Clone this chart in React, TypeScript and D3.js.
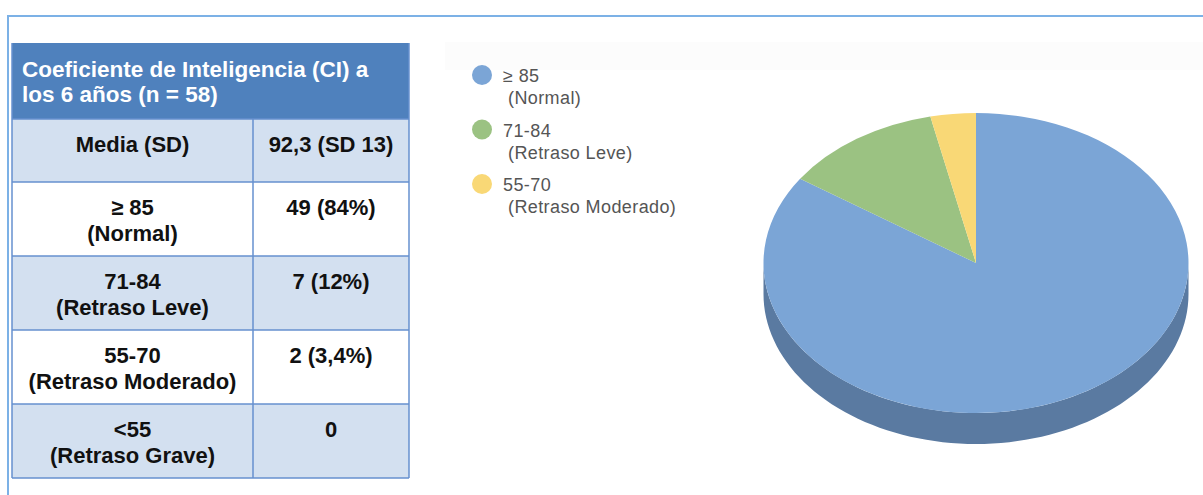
import React from 'react';
import * as d3 from 'd3';

// ---- data ----
const headerLines = ['Coeficiente de Inteligencia (CI) a', 'los 6 años (n = 58)'];
const rowLabels: string[][] = [
  ['Media (SD)'],
  ['≥ 85', '(Normal)'],
  ['71-84', '(Retraso Leve)'],
  ['55-70', '(Retraso Moderado)'],
  ['<55', '(Retraso Grave)'],
];
const rowValues = ['92,3 (SD 13)', '49 (84%)', '7 (12%)', '2 (3,4%)', '0'];

const pieCategories = ['≥ 85', '71-84', '55-70'];
const pieSubLabels = ['(Normal)', '(Retraso Leve)', '(Retraso Moderado)'];
const pieCounts = [49, 7, 2];
const pieColors = ['#7ba5d6', '#9bc282', '#f9d876'];
const pieSideColors = ['#5a7aa1', '#6f8f5c', '#c4a752'];

const W = 1203;
const H = 495;
const FONT = '"Liberation Sans", Arial, Helvetica, sans-serif';

export default function App() {
  // table layout
  const tX0 = 12, tX1 = 409, tDiv = 253;
  const headerTop = 43, headerH = 76;
  const rowHeights = [63, 74, 74, 74, 74];
  const rowTops: number[] = [];
  let acc = headerTop + headerH;
  rowHeights.forEach((h) => { rowTops.push(acc); acc += h; });
  const tBottom = acc;
  const gridColor = '#6690cf';

  // pie layout
  const cx = 976, cy = 263, rx = 212.5, ry = 150, depth = 31;
  const pie = d3.pie<number>().sort(null).value((d) => d);
  const arcsData = pie(pieCounts);
  const R = 100;
  const arcGen = d3.arc<d3.PieArcDatum<number>>().innerRadius(0).outerRadius(R);
  const sx = rx / R, sy = ry / R;

  const pt = (a: number, dy: number): [number, number] => [
    cx + rx * Math.sin(a),
    cy - ry * Math.cos(a) + dy,
  ];
  const sidePath = (a0: number, a1: number) => {
    const s = Math.max(a0, Math.PI / 2);
    const e = Math.min(a1, (3 * Math.PI) / 2);
    if (e <= s) return null;
    const n = 80;
    const top = d3.range(n + 1).map((i) => pt(s + ((e - s) * i) / n, 0));
    const bot = d3.range(n + 1).map((i) => pt(e - ((e - s) * i) / n, depth));
    return d3.line()([...top, ...bot]) + 'Z';
  };

  // legend layout
  const legX = 482, legY0 = 75, legStep = 54.5;

  return (
    <svg
      width={W}
      height={H}
      style={{ position: 'absolute', left: 0, top: 0, background: '#fff' }}
      fontFamily={FONT}
    >
      {/* frame */}
      <rect x={0} y={0} width={W} height={H} fill="#fff" />
      <rect x={445} y={42} width={W - 445} height={28} fill="#fcfcfc" />
      <line x1={8} y1={16} x2={W} y2={16} stroke="#7cb1e6" strokeWidth={2} />
      <line x1={8} y1={15} x2={8} y2={H} stroke="#7cb1e6" strokeWidth={2} />

      {/* table */}
      <rect x={tX0} y={headerTop} width={tX1 - tX0} height={headerH} fill="#4f81bd" />
      {headerLines.map((t, i) => (
        <text key={i} x={22} y={77 + i * 25} fill="#fff" fontWeight="bold" fontSize={22.5}>
          {t}
        </text>
      ))}
      {rowTops.map((top, i) => (
        <g key={i}>
          <rect
            x={tX0}
            y={top}
            width={tX1 - tX0}
            height={rowHeights[i]}
            fill={i % 2 === 0 ? '#d3e0f0' : '#ffffff'}
          />
          {rowLabels[i].map((t, j) => (
            <text
              key={j}
              x={(tX0 + tDiv) / 2}
              y={top + 33 + j * 26}
              textAnchor="middle"
              fontWeight="bold"
              fontSize={22}
              fill="#111"
            >
              {t}
            </text>
          ))}
          <text
            x={(tDiv + tX1) / 2}
            y={top + 33}
            textAnchor="middle"
            fontWeight="bold"
            fontSize={22}
            fill="#111"
          >
            {rowValues[i]}
          </text>
        </g>
      ))}
      {/* grid */}
      {rowTops.map((top, i) => (
        <line key={'h' + i} x1={tX0} x2={tX1} y1={top} y2={top} stroke={gridColor} strokeWidth={1.5} />
      ))}
      <line x1={tX0} x2={tX1} y1={tBottom} y2={tBottom} stroke={gridColor} strokeWidth={1.5} />
      <line x1={tDiv} x2={tDiv} y1={rowTops[0]} y2={tBottom} stroke={gridColor} strokeWidth={1.5} />
      <line x1={tX0} x2={tX0} y1={headerTop} y2={tBottom} stroke={gridColor} strokeWidth={1.5} />
      <line x1={tX1} x2={tX1} y1={headerTop} y2={tBottom} stroke={gridColor} strokeWidth={1.5} />

      {/* legend */}
      {pieCategories.map((c, i) => (
        <g key={c} fill="#555" fontSize={18} letterSpacing={0.4}>
          <circle cx={legX} cy={legY0 + i * legStep} r={10} fill={pieColors[i]} />
          <text x={503} y={legY0 + 7 + i * legStep}>{c}</text>
          <text x={508} y={legY0 + 29 + i * legStep}>{pieSubLabels[i]}</text>
        </g>
      ))}

      {/* 3D pie: side walls */}
      {arcsData.map((a, i) => {
        const p = sidePath(a.startAngle, a.endAngle);
        return p ? <path key={'s' + i} d={p} fill={pieSideColors[i]} /> : null;
      })}
      {/* top */}
      <g transform={`translate(${cx},${cy}) scale(${sx},${sy})`}>
        {arcsData.map((a, i) => (
          <path key={'t' + i} d={arcGen(a) || ''} fill={pieColors[i]} />
        ))}
      </g>
    </svg>
  );
}
